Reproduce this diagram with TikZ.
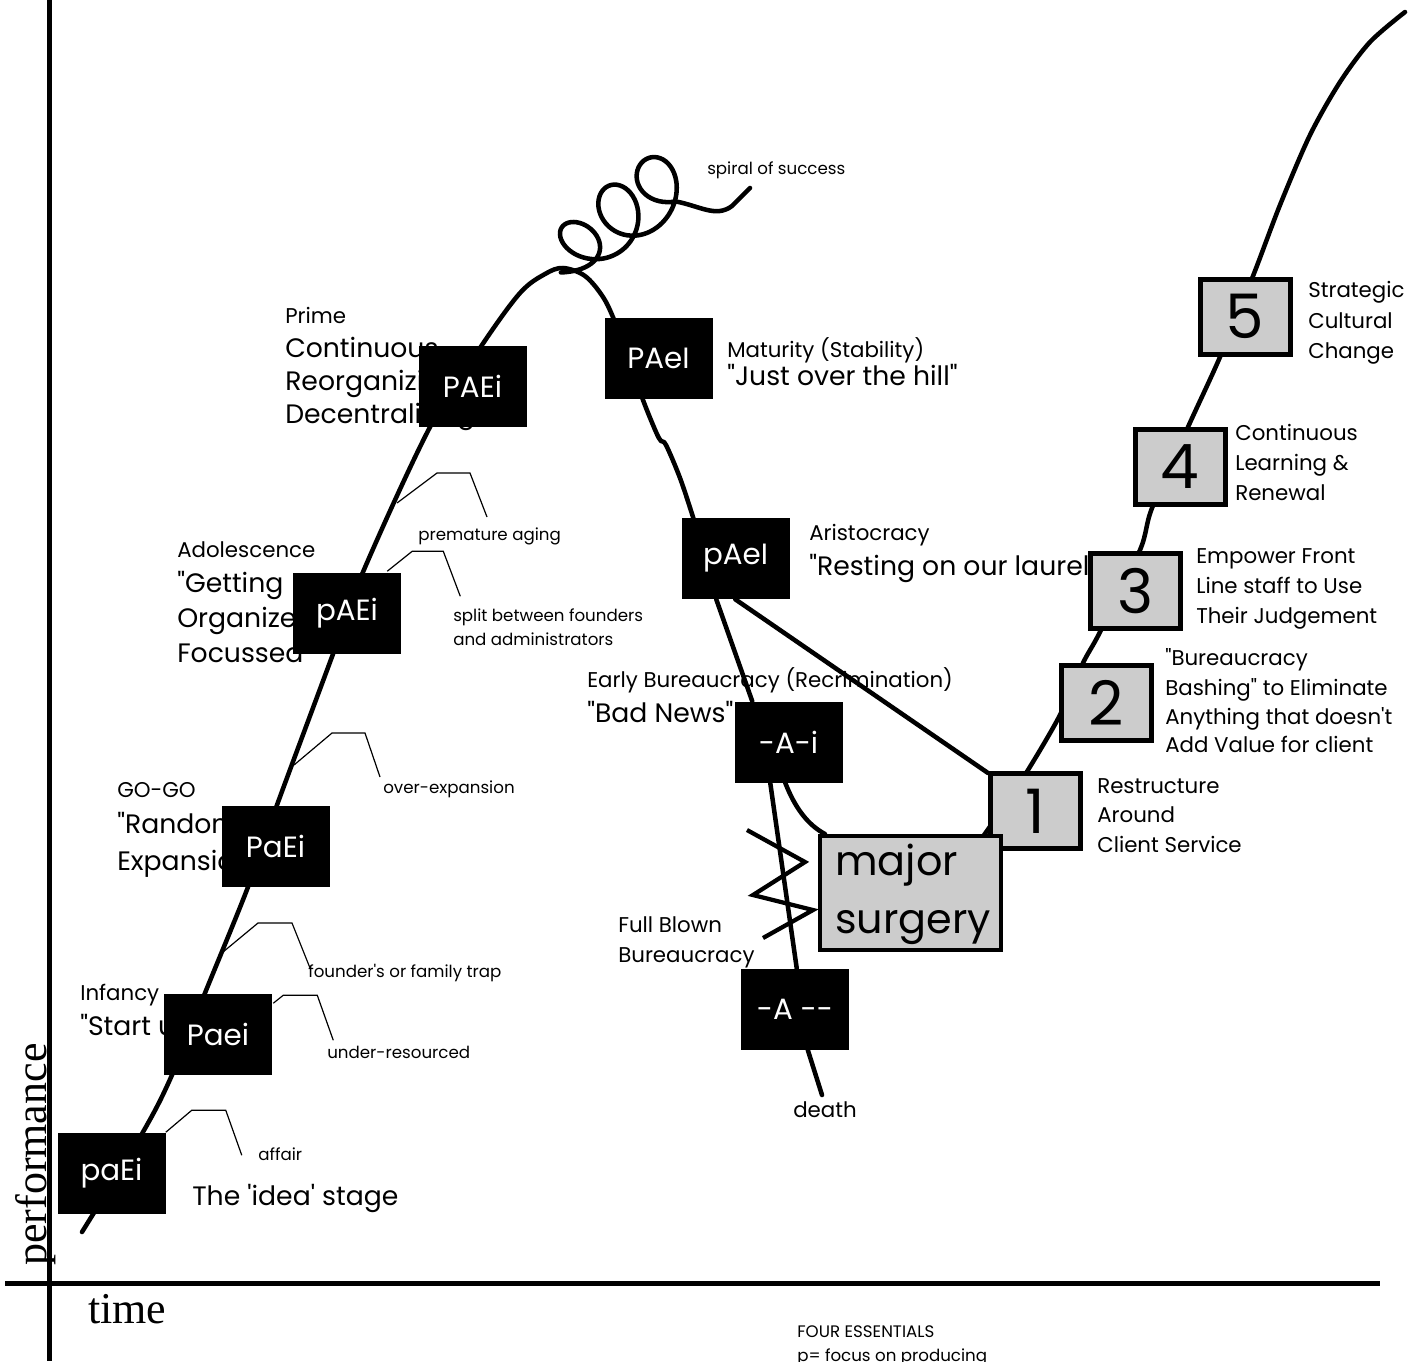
\documentclass[tikz,border=0pt]{standalone}
\usepackage{fontspec}
\setmainfont{Poppins}
\newfontfamily\pop{Poppins}
\newfontfamily\axfont{Liberation Serif}
\usetikzlibrary{calc}
\definecolor{boxgray}{HTML}{CCCCCC}
\begin{document}
\begin{tikzpicture}[x=0.75pt,y=-0.75pt,
  sm/.style={font=\pop\fontsize{12.5}{15}\selectfont, anchor=base west, inner sep=0pt},
  md/.style={font=\pop\fontsize{16}{19}\selectfont, anchor=base west, inner sep=0pt},
  bg/.style={font=\pop\fontsize{20}{24}\selectfont, anchor=base west, inner sep=0pt},
  hg/.style={font=\pop\fontsize{31}{34}\selectfont, anchor=base west, inner sep=0pt},
  axlab/.style={font=\axfont\fontsize{33}{33}\selectfont, anchor=base west, inner sep=0pt},
  stage/.style={fill=black, text=white, minimum width=81pt, minimum height=60.75pt, inner sep=0pt, font=\pop\fontsize{22}{24}\selectfont},
  stepbox/.style={draw=black, line width=3.75pt, fill=boxgray, minimum width=67.5pt, minimum height=56.25pt, inner sep=0pt, font=\pop\fontsize{46}{50}\selectfont},
  surgbox/.style={draw=black, line width=3pt, fill=boxgray, minimum width=135.75pt, minimum height=85.5pt, inner sep=0pt},
  curve/.style={line width=3.4pt, line cap=round, line join=round},
  zig/.style={line width=3.2pt, line join=miter},
  leader/.style={line width=0.9pt},
  axis/.style={line width=3.75pt}]

\useasboundingbox (0,0) rectangle (1419,1361);
\clip (0,0) rectangle (1419,1361);
\fill[white] (0,0) rectangle (1419,1361);

% axes
\coordinate (ytop) at (49,0);
\coordinate (ybot) at (49,1361);
\coordinate (xl) at (5,1283);
\coordinate (xr) at (1380,1283);
\draw[axis] (ytop) -- (ybot);
\draw[axis] (xl) -- (xr);
\node[axlab, rotate=90] (perf) at (46,1266) {performance};
\node[axlab] (time) at (88,1323) {time};

% texts
\node[sm] (tsp) at (707,174) {spiral of success};
\node[md] (tpr) at (285,323) {Prime};
\node[bg] (tpr1) at (285,357) {Continuous};
\node[bg] (tpr2) at (285,390) {Reorganizing};
\node[bg] (tpr3) at (285,423) {Decentralizing};
\node[md] (tma) at (727,357) {Maturity (Stability)};
\node[bg] (tma1) at (727,385) {"Just over the hill"};
\node[md] (tar) at (809,540) {Aristocracy};
\node[bg] (tar1) at (809,575) {"Resting on our laurels"};
\node[md] (tad) at (177,557) {Adolescence};
\node[bg] (tad1) at (177,592) {"Getting};
\node[bg] (tad2) at (177,627) {Organized};
\node[bg] (tad3) at (177,662) {Focussed"};
\node[md] (tgo) at (117,797) {GO-GO};
\node[bg] (tgo1) at (117,833) {"Random};
\node[bg] (tgo2) at (117,870) {Expansion"};
\node[md] (tin) at (80,1000) {Infancy};
\node[bg] (tin1) at (80,1035) {"Start up"};
\node[bg] (tid) at (192,1205) {The 'idea' stage};
\node[sm] (taf) at (258,1160) {affair};
\node[sm] (tur) at (327,1058) {under-resourced};
\node[sm] (tft) at (308,977) {founder's or family trap};
\node[sm] (tox) at (383,793) {over-expansion};
\node[sm] (tpa) at (418,540) {premature aging};
\node[sm] (tsb1) at (453,621) {split between founders};
\node[sm] (tsb2) at (453,645) {and administrators};
\node[md] (teb) at (587,687) {Early Bureaucracy (Recrimination)};
\node[bg] (teb1) at (587,722) {"Bad News"};
\node[md] (tfb1) at (618,932) {Full Blown};
\node[md] (tfb2) at (618,962) {Bureaucracy};
\node[md] (tde) at (793,1117) {death};
\node[md] (tr1) at (1097,793) {Restructure};
\node[md] (tr2) at (1097,822) {Around};
\node[md] (tr3) at (1097,852) {Client Service};
\node[md] (tb1) at (1165,665) {"Bureaucracy};
\node[md] (tb2) at (1165,695) {Bashing" to Eliminate};
\node[md] (tb3) at (1165,724) {Anything that doesn't};
\node[md] (tb4) at (1165,752) {Add Value for client};
\node[md] (te1) at (1196,563) {Empower Front};
\node[md] (te2) at (1196,593) {Line staff to Use};
\node[md] (te3) at (1196,623) {Their Judgement};
\node[md] (tc1) at (1235,440) {Continuous};
\node[md] (tc2) at (1235,470) {Learning \&};
\node[md] (tc3) at (1235,500) {Renewal};
\node[md] (ts1) at (1308,297) {Strategic};
\node[md] (ts2) at (1308,328) {Cultural};
\node[md] (ts3) at (1308,358) {Change};
\node[sm] (tfe1) at (797,1337) {FOUR ESSENTIALS};
\node[sm] (tfe2) at (797,1361) {p= focus on producing};

% main life-cycle curve
\draw[curve] plot[smooth, tension=0.55] coordinates {(82,1232) (143,1132) (172,1075) (205,993) (248,887) (277,805) (333,654) (363,572) (430,427) (482,345) (520,293) (545,274) (563,268) (585,276) (603,297) (615,322) (630,362) (643,400) (656,432) (661,441) (666,445) (680,478) (693,517) (700,540)};

% spiral of success
\draw[curve] plot[smooth, samples=150, domain=pi:7*pi, variable=\t]
  ({541.7+6.1*\t-29*sin(\t r)}, {273.3-4.5*\t-(2+4*\t-0.13*\t*\t)*cos(\t r)})
  .. controls (700,206) and (716,218) .. (732,206) -- (750,188);

% nodes: stage boxes
\node[stage] (b1) at (111.5,1173) {paEi};
\node[stage] (b2) at (218,1034) {Paei};
\node[stage] (b3) at (275.5,846.5) {PaEi};
\node[stage] (b4) at (347,613) {pAEi};
\node[stage] (b5) at (472.5,386) {PAEi};
\node[stage] (b6) at (658.5,358) {PAeI};
\node[stage] (b7) at (735.5,558.5) {pAeI};
\node[stage] (b8) at (788.5,742) {-A-i};
\node[stage] (b9) at (795,1009) {-A --};

% step boxes
\node[stepbox] (g1) at (1035.5,811) {1};
\node[stepbox] (g2) at (1106.5,703) {2};
\node[stepbox] (g3) at (1135.5,591) {3};
\node[stepbox] (g4) at (1180,467) {4};
\node[stepbox] (g5) at (1245,316.5) {5};

% decline connectors
\draw[curve] ($(b7.south west)+(35,0)$) -- ($(b8.north west)+(18,0)$);
\draw[curve] ($(b8.south west)+(36,0)$) -- ($(b9.north west)+(56,0)$);
\coordinate (dth) at (822,1095);
\draw[curve] ($(b9.south west)+(67,0)$) -- (dth);
\draw[curve] ($(b7.south west)+(54,0)$) -- ($(g1.north west)+(0,2)$);

% recovery curve
\draw[curve] plot[smooth, tension=0.5] coordinates {(975,848) (1000,812) (1028,770) (1060,715) (1083,663) (1100,632) (1140,550) (1152,508) (1188,427) (1220,357) (1253,276) (1280,205) (1310,135) (1340,82) (1370,42) (1405,12)};

% surgery
\node[surgbox] (surg) at (910.5,893) {};
\draw[curve] ($(b8.south west)+(51,0)$) .. controls (795,808) and (808,825) .. ($(surg.north west)+(7,0)$);

% redraw boxes over the curves
\node[stepbox] (g1b) at (g1) {1};
\node[stepbox] (g2b) at (g2) {2};
\node[stepbox] (g3b) at (g3) {3};
\node[stepbox] (g4b) at (g4) {4};
\node[stepbox] (g5b) at (g5) {5};
\node[surgbox] (surgb) at (surg) {};
\node[hg] (tmaj) at (835,875) {major};
\node[hg] (tsur) at (835,933) {surgery};

% zigzag
\draw[zig] (747,830) -- (805,862) -- (753,895) -- (813,910) -- (763,938);

% leaders
\draw[leader] (b1.north east) -- ++(26,-22) -- ++(34,0) -- ++(16,45);
\draw[leader] ($(b2.north east)+(1,10)$) -- ++(10,-8) -- ++(34,0) -- ++(16,45);
\coordinate (lf) at (223,952);
\draw[leader] (lf) -- ++(35,-29) -- ++(34,0) -- ++(18,45);
\coordinate (lo) at (294,765);
\draw[leader] (lo) -- ++(38,-32) -- ++(33,0) -- ++(15,44);
\coordinate (lp) at (397,503);
\draw[leader] (lp) -- ++(40,-30) -- ++(33,0) -- ++(17,44);
\draw[leader] ($(b4.north east)+(-14,-1)$) -- ++(25,-20) -- ++(31,0) -- ++(17,45);
\end{tikzpicture}
\end{document}
